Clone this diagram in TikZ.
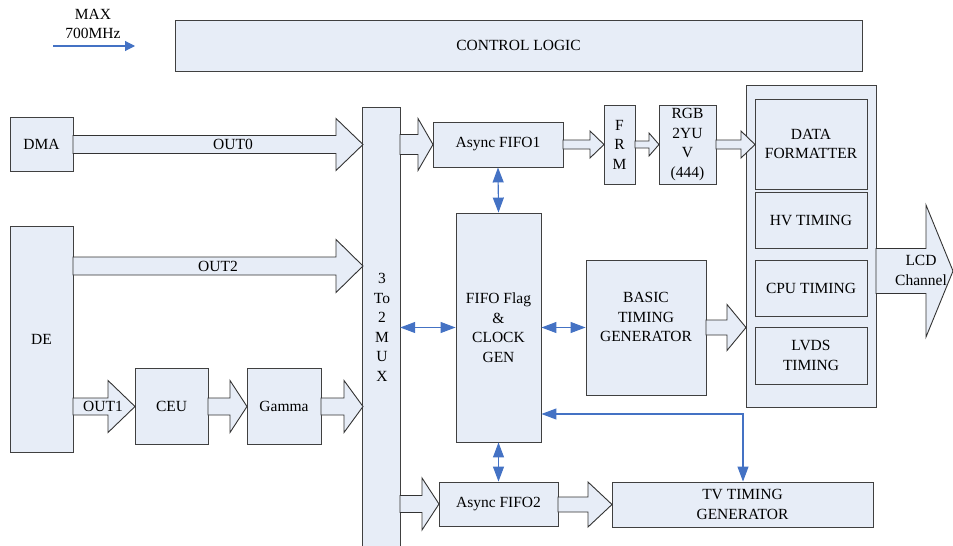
\documentclass[tikz,border=0pt]{standalone}
\usepackage{fontspec}
\setmainfont{Liberation Serif}
\usetikzlibrary{arrows.meta}
\definecolor{boxfill}{RGB}{231,237,247}
\definecolor{lineblue}{RGB}{68,114,196}
\newcommand{\blkarrow}[6]{\draw[barrow] (#1,#4-#5) -- (#2,#4-#5) -- (#2,#4-#6) -- (#3,#4) -- (#2,#4+#6) -- (#2,#4+#5) -- (#1,#4+#5) -- cycle;}
\tikzset{
  box/.style={draw=black!75, fill=boxfill, line width=0.9pt, inner sep=0pt, align=center},
  barrow/.style={draw=black!80, fill=boxfill, line width=0.9pt, line join=miter},
  txt/.style={inner sep=0pt, align=center},
  link/.style={draw=lineblue, line width=1.1pt, {Triangle[length=15pt,width=11pt]}-{Triangle[length=15pt,width=11pt]}},
}
\begin{document}
\begin{tikzpicture}[x=1pt, y=-1pt, font=\fontsize{15.5}{19.5}\selectfont]
\useasboundingbox (0,0) rectangle (953,546);
% clock note
\node[txt] (maxtxt) at (93,24) {MAX\\700MHz};
\coordinate (clkA) at (53,46);
\coordinate (clkB) at (135,46);
\draw[draw=lineblue, line width=1.1pt, -{Triangle[length=10pt,width=10pt]}] (clkA) -- (clkB);
% control logic
\node[box, minimum width=687pt, minimum height=51pt] (ctrl) at (518.5,45.5) {CONTROL LOGIC};
% left blocks
\node[box, minimum width=63pt, minimum height=54pt] (dma) at (41.5,144) {DMA};
\node[box, minimum width=63pt, minimum height=226pt] (de) at (41.5,339) {DE};
\node[box, minimum width=73pt, minimum height=76pt] (ceu) at (171.5,406) {CEU};
\node[box, minimum width=74pt, minimum height=76pt] (gamma) at (284,406) {Gamma};
% mux (open at bottom)
\node[fill=boxfill, minimum width=37pt, minimum height=440pt, inner sep=0pt] (mux) at (381.5,328) {};
\draw[draw=black!75, line width=0.9pt] (mux.south west) -- (mux.north west) -- (mux.north east) -- (mux.south east);
\node[txt] (muxtxt) at (382,327.5) {3\\To\\2\\M\\U\\X};
% middle blocks
\node[box, minimum width=130pt, minimum height=45pt] (fifo1) at (498,144.5) {Async FIFO1};
\node[box, minimum width=31pt, minimum height=79pt] (frm) at (619.5,144.5) {F\\R\\M};
\node[box, minimum width=57pt, minimum height=79pt] (rgb) at (687.5,144.5) {RGB\\2YU\\V\\(444)};
\node[box, minimum width=85pt, minimum height=229pt] (flag) at (498.5,327.5) {FIFO Flag\\\&\\CLOCK\\GEN};
\node[box, minimum width=120pt, minimum height=135pt] (basic) at (646,327.5) {};
\node[txt] (basictxt) at (646,317) {BASIC\\TIMING\\GENERATOR};
\node[box, minimum width=119pt, minimum height=44pt] (fifo2) at (498.5,504) {Async FIFO2};
\node[box, minimum width=261pt, minimum height=45pt] (tv) at (742.5,504.5) {TV TIMING\\GENERATOR};
% right group
\node[box, minimum width=130pt, minimum height=322pt] (outer) at (811,246) {};
\node[box, minimum width=112pt, minimum height=90pt] (df) at (811,144) {DATA\\FORMATTER};
\node[box, minimum width=112pt, minimum height=56pt] (hv) at (811,220) {HV TIMING};
\node[box, minimum width=112pt, minimum height=56pt] (cpu) at (811,288) {CPU TIMING};
\node[box, minimum width=112pt, minimum height=57pt] (lvds) at (811,355.5) {LVDS\\TIMING};
% block arrows
\blkarrow{73}{336}{363}{144.5}{9}{26}
\blkarrow{400}{418}{433}{144.5}{10}{26}
\blkarrow{563}{590}{604}{144.5}{4.5}{13.5}
\blkarrow{635}{649}{659}{144.5}{3.5}{11.5}
\blkarrow{716}{741}{755}{144.5}{4.5}{13.5}
\blkarrow{73}{336}{363}{266}{9}{26.5}
\blkarrow{73}{108}{135}{406.5}{8.5}{26}
\blkarrow{208}{230}{247}{406.5}{8.5}{26}
\blkarrow{321}{344}{363}{406.5}{8.5}{26}
\blkarrow{706}{727}{746}{327.5}{7.5}{23}
\blkarrow{400}{422}{439}{504}{8.5}{26}
\blkarrow{558}{588}{612}{504.5}{7.5}{22.5}
\blkarrow{876}{926}{953}{271}{22.5}{66}
% arrow labels
\node[txt] (out0) at (233,144) {OUT0};
\node[txt] (out2) at (218,266) {OUT2};
\node[txt] (out1) at (103,406.5) {OUT1};
\node[txt] (lcd) at (921,270.5) {LCD\\Channel};
% blue control links
\draw[link] (fifo1.south) -- (flag.north);
\draw[link] (flag.south) -- (fifo2.north);
\draw[link] (mux.east |- flag.west) -- (flag.west);
\draw[link] (flag.east) -- (basic.west);
\coordinate (tvbend) at (743,414);
\draw[link] (flag.east |- tvbend) -- (tvbend) -- (tvbend |- tv.north);
\end{tikzpicture}
\end{document}
